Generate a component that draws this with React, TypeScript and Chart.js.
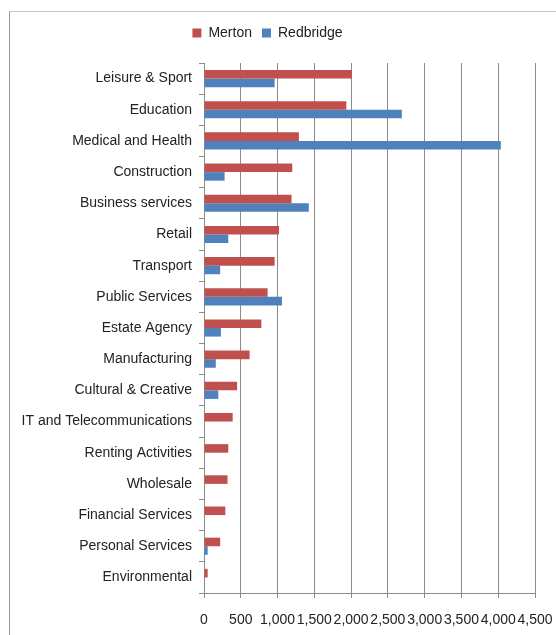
import React, { useEffect, useRef } from "react";
import { Chart, registerables } from "chart.js";

Chart.register(...registerables);

const categories = [
  "Leisure & Sport",
  "Education",
  "Medical and Health",
  "Construction",
  "Business services",
  "Retail",
  "Transport",
  "Public Services",
  "Estate Agency",
  "Manufacturing",
  "Cultural & Creative",
  "IT and Telecommunications",
  "Renting Activities",
  "Wholesale",
  "Financial Services",
  "Personal Services",
  "Environmental",
];

const merton = [2010, 1935, 1290, 1200, 1190, 1020, 960, 865, 780, 620, 450, 390, 330, 320, 290, 220, 50];
const redbridge = [960, 2690, 4035, 280, 1425, 330, 220, 1060, 230, 160, 195, null, null, null, null, 50, null];

const xMin = 0;
const xMax = 4500;
const xStep = 500;

const FONT = "'Liberation Sans', Arial, sans-serif";

export default function App() {
  const ref = useRef<HTMLCanvasElement | null>(null);

  useEffect(() => {
    if (!ref.current) return;
    const legendSpacer = {
      id: "legendSpacer",
      beforeInit(chart: any) {
        const legend = chart.legend;
        if (!legend) return;
        const orig = legend.fit;
        legend.fit = function () {
          orig.call(this);
          this.height += 13;
        };
      },
    };
    const chart = new Chart(ref.current, {
      type: "bar",
      data: {
        labels: categories,
        datasets: [
          {
            label: "Merton",
            data: merton,
            backgroundColor: "#C0504D",
            borderWidth: 0,
            categoryPercentage: 0.55,
            barPercentage: 1.0,
          },
          {
            label: "Redbridge",
            data: redbridge,
            backgroundColor: "#4F81BD",
            borderWidth: 0,
            categoryPercentage: 0.55,
            barPercentage: 1.0,
          },
        ],
      },
      options: {
        indexAxis: "y",
        responsive: false,
        animation: false,
        devicePixelRatio: 1,
        layout: { padding: { top: 16, left: 0, right: 21, bottom: 0 } },
        plugins: {
          legend: {
            position: "top",
            labels: {
              boxWidth: 9,
              boxHeight: 9,
              padding: 10,
              color: "#222",
              font: { family: FONT, size: 14 },
            },
          },
          tooltip: { enabled: false },
        },
        scales: {
          x: {
            min: xMin,
            max: xMax,
            afterFit(scale: any) {
              scale.height = 42;
              scale.paddingLeft = 0;
              scale.paddingRight = 0;
            },
            ticks: {
              stepSize: xStep,
              autoSkip: false,
              maxRotation: 0,
              minRotation: 0,
              padding: 14,
              color: "#222",
              font: { family: FONT, size: 14 },
            },
            grid: {
              color: "#8c8c8c",
              lineWidth: 1,
              tickLength: 5,
              drawTicks: true,
            },
            border: { color: "#8c8c8c", width: 1 },
          },
          y: {
            afterFit(scale: any) {
              scale.width = 204;
            },
            ticks: {
              autoSkip: false,
              padding: 7,
              color: "#222",
              font: { family: FONT, size: 14 },
            },
            grid: {
              offset: true,
              drawOnChartArea: false,
              drawTicks: true,
              tickLength: 5,
              color: "#8c8c8c",
            },
            border: { color: "#8c8c8c", width: 1 },
          },
        },
      },
      plugins: [legendSpacer],
    } as any);
    return () => chart.destroy();
  }, []);

  return (
    <div
      style={{
        position: "fixed",
        left: 0,
        top: 0,
        width: 556,
        height: 635,
        background: "#fff",
        overflow: "hidden",
      }}
    >
      <div
        style={{
          position: "absolute",
          left: 9,
          top: 11,
          width: 600,
          height: 700,
          borderTop: "1px solid #c4c4c4",
          borderLeft: "1px solid #9a9a9a",
        }}
      />
      <canvas
        ref={ref}
        width={556}
        height={635}
        style={{ position: "absolute", left: 0, top: 0, width: 556, height: 635 }}
      />
    </div>
  );
}
